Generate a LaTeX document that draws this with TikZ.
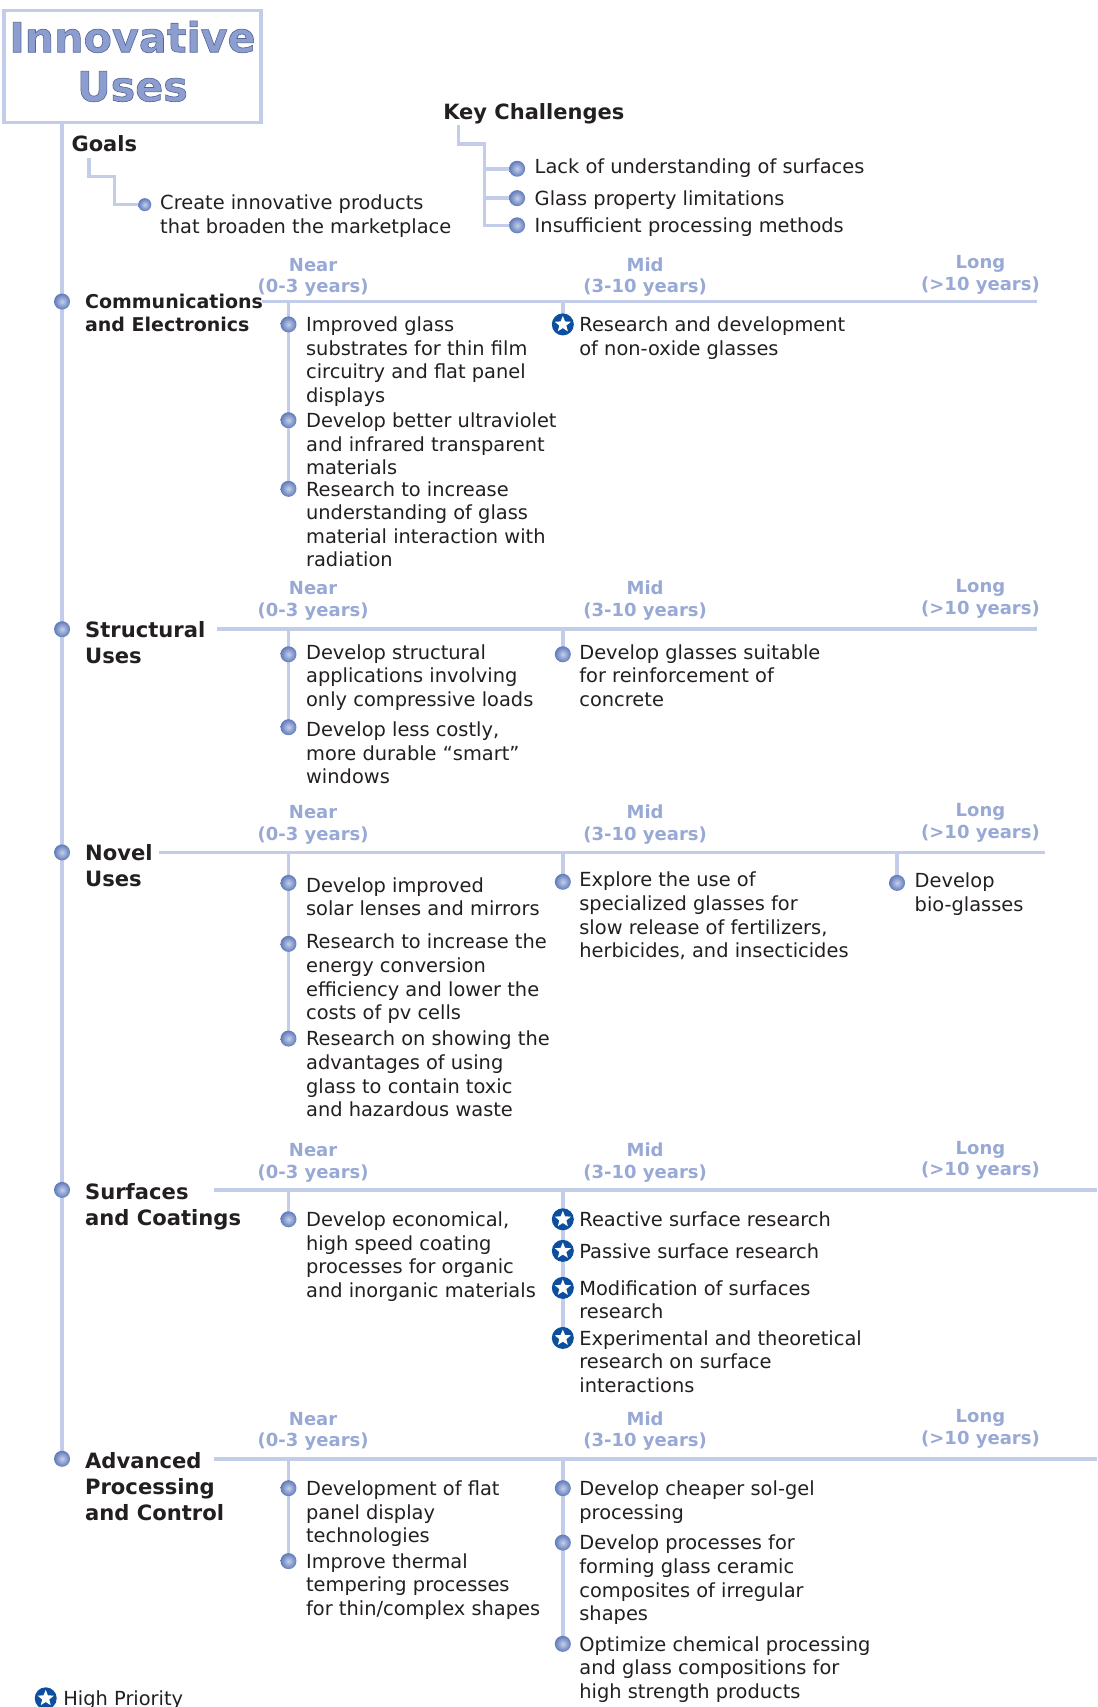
\documentclass[tikz,border=0pt]{standalone}
\usepackage{fontspec}
\setmainfont{DejaVu Sans}
\usetikzlibrary{shapes.geometric,backgrounds}
\definecolor{linec}{HTML}{C3CCE8}
\definecolor{labc}{HTML}{98A9D6}
\definecolor{titc}{HTML}{8C9DD0}
\definecolor{inkc}{HTML}{231F20}
\definecolor{starc}{HTML}{0B4F9E}
\definecolor{balli}{HTML}{C4CFEA}
\definecolor{ballo}{HTML}{5F7ABA}
\tikzset{
  conn/.style={draw=linec,line width=3.6pt},
  txt/.style={font=\fontsize{19.4}{23.6}\selectfont,text=inkc,align=left,inner sep=0pt,anchor=north west,yshift=13pt},
  grp/.style={font=\fontsize{21.1}{26}\selectfont\bfseries,text=inkc,align=left,inner sep=0pt,anchor=north west,yshift=13pt},
  grpsm/.style={font=\fontsize{19}{23.3}\selectfont\bfseries,text=inkc,align=left,inner sep=0pt,anchor=north west,yshift=13.2pt},
  grplg/.style={font=\fontsize{21}{26}\selectfont\bfseries,text=inkc,align=left,inner sep=0pt,anchor=north west,yshift=12.6pt},
  tim/.style={font=\fontsize{18}{21.8}\selectfont\bfseries,text=labc,align=center,inner sep=0pt,anchor=north,yshift=13.6pt},
  ball/.style={circle,inner sep=0pt,minimum size=#1,shading=radial,inner color=balli,outer color=ballo},
  ball/.default=16pt,
  starb/.style={circle,inner sep=0pt,minimum size=22pt,fill=starc,path picture={
     \node[star,star points=5,star point ratio=2.3,fill=white,inner sep=0pt,minimum size=17pt] at (path picture bounding box.center) {};}}
}
\newcommand{\Bu}[3]{\node[ball] (#1) at (#2,#3) {};}
\newcommand{\Sb}[3]{\node[starb] (#1) at (#2,#3) {};}
\newcommand{\Tx}[4]{\node[txt] (#1) at (#2,#3) {\rule{0pt}{20pt}#4};}
\newcommand{\Gp}[4]{\node[grp] (#1) at (#2,#3) {\rule{0pt}{20pt}#4};}
\newcommand{\Tm}[3]{%
  \node[tim] (#1n) at (287.6,#2) {\rule{0pt}{20pt}Near\\(0-3 years)};
  \node[tim] (#1m) at (592.6,#2) {\rule{0pt}{20pt}Mid\\(3-10 years)};
  \node[tim] (#1l) at (900.6,#3) {\rule{0pt}{20pt}Long\\(>10 years)};}
\begin{document}
\begin{tikzpicture}[x=1.0883pt,y=-1.0883pt]
\useasboundingbox (0,0) rectangle (1008,1568);
\node[draw=linec,line width=3.6pt,minimum width=257pt,minimum height=112pt,inner sep=0pt,anchor=north west,
  font=\fontsize{41.3}{49}\selectfont\bfseries,text=titc,align=center] (title) at (2,8)
  {\special{pdf:code 2 Tr 0.6 w 0.33 0.39 0.57 RG}Innovative\\Uses\rule[-11pt]{0pt}{0pt}\special{pdf:code 0 Tr}};
% goals
\node[grplg] (goals) at (65.5,132) {\rule{0pt}{20pt}Goals};
\node[ball=13pt] (gb) at (133,188) {};
\Tx{gt}{147}{186}{Create innovative products\\that broaden the marketplace}
\coordinate (gs) at (82,145);
% challenges
\node[grplg] (kc) at (407,103) {\rule{0pt}{20pt}Key Challenges};
\coordinate (ks) at (421,115);
\Bu{k1}{475}{155}\Bu{k2}{475}{182}\Bu{k3}{475}{207}
\Tx{kt1}{491}{153}{Lack of understanding of surfaces}
\Tx{kt2}{491}{182}{Glass property limitations}
\Tx{kt3}{491}{207}{Insufficient processing methods}
% communications
\Bu{m1}{57}{277}
\node[grpsm] (g1) at (78,277) {\rule{0pt}{20pt}Communications\\and Electronics};
\Tm{a}{243}{241}
\coordinate (a0) at (241,277); \coordinate (a1) at (953,277);
\Bu{a2}{265}{298}\Bu{a3}{265}{386}\Bu{a4}{265}{449}
\Tx{at1}{281}{298}{Improved glass\\substrates for thin film\\circuitry and flat panel\\displays}
\Tx{at2}{281}{386}{Develop better ultraviolet\\and infrared transparent\\materials}
\Tx{at3}{281}{449}{Research to increase\\understanding of glass\\material interaction with\\radiation}
\Sb{a5}{517}{298}
\Tx{at4}{532}{298}{Research and development\\of non-oxide glasses}
% structural
\Bu{m2}{57}{578}
\Gp{g2}{78}{579}{Structural\\Uses}
\Tm{b}{540}{538}
\coordinate (b0) at (199,578); \coordinate (b1) at (953,578);
\Bu{b2}{265}{601}\Bu{b3}{265}{668}\Bu{b4}{517}{601}
\Tx{bt1}{281}{599}{Develop structural\\applications involving\\only compressive loads}
\Tx{bt2}{281}{670}{Develop less costly,\\more durable “smart”\\windows}
\Tx{bt3}{532}{599}{Develop glasses suitable\\for reinforcement of\\concrete}
% novel
\Bu{m3}{57}{783}
\Gp{g3}{78}{784}{Novel\\Uses}
\Tm{c}{746}{744}
\coordinate (c0) at (146,783); \coordinate (c1) at (960,783);
\Bu{c2}{265}{811}\Bu{c3}{265}{867}\Bu{c4}{265}{954}\Bu{c5}{517}{810}\Bu{c6}{824}{811}
\Tx{ct1}{281}{813}{Develop improved\\solar lenses and mirrors}
\Tx{ct2}{281}{865}{Research to increase the\\energy conversion\\efficiency and lower the\\costs of pv cells}
\Tx{ct3}{281}{954}{Research on showing the\\advantages of using\\glass to contain toxic\\and hazardous waste}
\Tx{ct4}{532}{808}{Explore the use of\\specialized glasses for\\slow release of fertilizers,\\herbicides, and insecticides}
\Tx{ct5}{840}{809}{Develop\\bio-glasses}
% surfaces
\Bu{m4}{57}{1093}
\Gp{g4}{78}{1095}{Surfaces\\and Coatings}
\Tm{d}{1056}{1054}
\coordinate (d0) at (197,1093); \coordinate (d1) at (1008,1093);
\Bu{d2}{265}{1120}
\Sb{d3}{517}{1120}\Sb{d4}{517}{1149}\Sb{d5}{517}{1183}\Sb{d6}{517}{1229}
\Tx{dt1}{281}{1120}{Develop economical,\\high speed coating\\processes for organic\\and inorganic materials}
\Tx{dt2}{532}{1120}{Reactive surface research}
\Tx{dt3}{532}{1149}{Passive surface research}
\Tx{dt4}{532}{1183}{Modification of surfaces\\research}
\Tx{dt5}{532}{1229}{Experimental and theoretical\\research on surface\\interactions}
% advanced
\Bu{m5}{57}{1340}
\Gp{g5}{78}{1342}{Advanced\\Processing\\and Control}
\Tm{e}{1303}{1301}
\coordinate (e0) at (197,1340); \coordinate (e1) at (1008,1340);
\Bu{e2}{265}{1367}\Bu{e3}{265}{1434}\Bu{e4}{517}{1367}\Bu{e5}{517}{1417}\Bu{e6}{517}{1510}
\Tx{et1}{281}{1367}{Development of flat\\panel display\\technologies}
\Tx{et2}{281}{1434}{Improve thermal\\tempering processes\\for thin/complex shapes}
\Tx{et3}{532}{1367}{Develop cheaper sol-gel\\processing}
\Tx{et4}{532}{1417}{Develop processes for\\forming glass ceramic\\composites of irregular\\shapes}
\Tx{et5}{532}{1510}{Optimize chemical processing\\and glass compositions for\\high strength products}
% legend
\Sb{lg}{42}{1560}
\Tx{lt}{58}{1560}{High Priority}
\begin{pgfonlayer}{background}
\draw[conn] (title.south -| m1) -- (m5.center);
\draw[conn] (gs) -- ++(0,17) -- ++(23,0) |- (gb.center);
\draw[conn] (ks) -- ++(0,17) -- ++(24,0) |- (k3.center);
\draw[conn] (ks)++(24,40) -- (k1.center);
\draw[conn] (ks)++(24,67) -- (k2.center);
\foreach \p in {a,b,c,d,e}{\draw[conn] (\p0) -- (\p1);}
\draw[conn] (a2 |- a0) -- (a4.center);
\draw[conn] (a5 |- a0) -- (a5.center);
\draw[conn] (b2 |- b0) -- (b3.center);
\draw[conn] (b4 |- b0) -- (b4.center);
\draw[conn] (c2 |- c0) -- (c4.center);
\draw[conn] (c5 |- c0) -- (c5.center);
\draw[conn] (c6 |- c0) -- (c6.center);
\draw[conn] (d2 |- d0) -- (d2.center);
\draw[conn] (d3 |- d0) -- (d6.center);
\draw[conn] (e2 |- e0) -- (e3.center);
\draw[conn] (e4 |- e0) -- (e6.center);
\end{pgfonlayer}
\end{tikzpicture}
\end{document}
